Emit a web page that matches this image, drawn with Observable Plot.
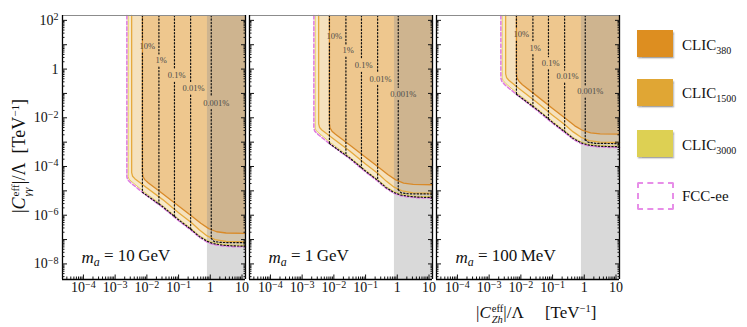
<!DOCTYPE html>
<html>
<head>
<meta charset="utf-8">
<script src="https://cdn.jsdelivr.net/npm/d3@7"></script>
<script src="https://cdn.jsdelivr.net/npm/@observablehq/plot@0.6"></script>
<style>
  html, body { margin: 0; padding: 0; background: #fff; }
  #wrap { position: relative; width: 747px; height: 327px; overflow: hidden; font-family: "Liberation Serif", "DejaVu Serif", serif; color: #111; }
  #wrap svg { position: absolute; left: 0; top: 0; }
  #wrap svg text { font-family: "Liberation Serif", "DejaVu Serif", serif; }
  .lg-box { position: absolute; left: 637px; width: 36px; height: 27px; box-shadow: 1px 1.5px 1.5px rgba(0,0,0,0.35); }
  .lg-dash { position: absolute; left: 637px; width: 33px; height: 24px; border: 2px dashed #e78ee8; border-radius: 2px; }
  .lg-text { position: absolute; left: 682px; font-size: 15px; line-height: 15px; white-space: nowrap; }
  .lg-text sub { font-size: 10px; vertical-align: -4px; line-height: 0; }
  .ax { position: absolute; white-space: nowrap; font-size: 17px; line-height: 17px; }
  .ss { display: inline-block; vertical-align: -0.5em; font-size: 0.62em; line-height: 1.05em; margin-left: 1px; }
  .ss span { display: block; }
  .ax sup { font-size: 0.62em; vertical-align: 0.55em; line-height: 0; }
</style>
</head>
<body>
<div id="wrap"></div>
<script>
// ---------------- data (log10 values) ----------------
const panels = ["10 GeV", "1 GeV", "100 MeV"];
const panelMassText = ["10\u2009GeV", "1\u2009GeV", "100\u2009MeV"];
const panelTextPosLog = [-4.06, -7.73];

const xDomainLog = [-4.66, 1.11];
const yDomainLog = [-8.64, 2.2];

const xTickValuesLog = [-4, -3, -2, -1, 0, 1];
const xTickLabels = ["10^-4", "10^-3", "10^-2", "10^-1", "1", "10"];
const yTickValuesLog = [2, 0, -2, -4, -6, -8];
const yTickLabels = ["10^2", "1", "10^-2", "10^-4", "10^-6", "10^-8"];

const grayBandLog = [-0.09, 1.11];

const contourXLog = [-2.14, -1.62, -1.13, -0.62, 0.03];
const contourLabelXLog = [-1.99, -1.55, -1.06, -0.53, 0.19];
const contourLabels = ["10%", "1%", "0.1%", "0.01%", "0.001%"];

// m_a = 10 GeV
const fcc_10GeV = [[-2.63,2.2],[-2.63,-4.43],[-2.6,-4.55],[-2.5,-4.68],[-2.1,-5.1],[-1.5,-5.68],[-1.0,-6.22],[-0.6,-6.62],[-0.35,-6.9],[-0.1,-7.1],[0.1,-7.2],[0.4,-7.26],[0.7,-7.29],[1.11,-7.3]];
const clic3000_10GeV = [[-2.59,2.2],[-2.59,-4.42],[-2.56,-4.52],[-2.47,-4.63],[-2.1,-5.03],[-1.5,-5.61],[-1.0,-6.15],[-0.6,-6.55],[-0.35,-6.83],[-0.1,-7.03],[0.1,-7.13],[0.4,-7.2],[0.7,-7.23],[1.11,-7.24]];
const clic1500_10GeV = [[-2.48,2.2],[-2.48,-4.25],[-2.45,-4.4],[-2.38,-4.5],[-2.1,-4.78],[-1.5,-5.36],[-1.0,-5.9],[-0.6,-6.3],[-0.35,-6.6],[-0.1,-6.85],[0.15,-7.0],[0.5,-7.08],[1.11,-7.1]];
const clic380_10GeV = [[-2.14,2.2],[-2.14,-4.25],[-2.12,-4.42],[-2.06,-4.55],[-1.95,-4.68],[-1.5,-5.12],[-1.0,-5.62],[-0.6,-6.02],[-0.3,-6.33],[-0.05,-6.55],[0.2,-6.68],[0.5,-6.73],[1.11,-6.75]];
const edge_10GeV = [[-2.14,-5.06],[-1.5,-5.65],[-1.0,-6.19],[-0.6,-6.59],[-0.35,-6.87],[-0.1,-7.07],[0.1,-7.17],[0.4,-7.23],[0.7,-7.26],[1.11,-7.27]];
const tail_10GeV = [[0.03,-6.95],[0.12,-7.08],[0.35,-7.12],[1.11,-7.13]];
const contourBottom_10GeV = [-5.06, -5.54, -6.05, -6.57, -6.95];
const contourLabelY_10GeV = [0.93, 0.35, -0.27, -0.8, -1.39];

// m_a = 1 GeV
const fcc_1GeV = [[-2.63,2.2],[-2.63,-2.43],[-2.6,-2.55],[-2.5,-2.68],[-2.1,-3.1],[-1.5,-3.68],[-1.0,-4.22],[-0.6,-4.62],[-0.35,-4.9],[-0.1,-5.1],[0.1,-5.2],[0.4,-5.26],[0.7,-5.29],[1.11,-5.3]];
const clic3000_1GeV = [[-2.59,2.2],[-2.59,-2.42],[-2.56,-2.52],[-2.47,-2.63],[-2.1,-3.03],[-1.5,-3.61],[-1.0,-4.15],[-0.6,-4.55],[-0.35,-4.83],[-0.1,-5.03],[0.1,-5.13],[0.4,-5.2],[0.7,-5.23],[1.11,-5.24]];
const clic1500_1GeV = [[-2.48,2.2],[-2.48,-2.25],[-2.45,-2.4],[-2.38,-2.5],[-2.1,-2.78],[-1.5,-3.36],[-1.0,-3.9],[-0.6,-4.3],[-0.35,-4.6],[-0.1,-4.85],[0.15,-5.0],[0.5,-5.08],[1.11,-5.1]];
const clic380_1GeV = [[-2.14,2.2],[-2.14,-2.25],[-2.12,-2.42],[-2.06,-2.55],[-1.95,-2.68],[-1.5,-3.12],[-1.0,-3.62],[-0.6,-4.02],[-0.3,-4.33],[-0.05,-4.55],[0.2,-4.68],[0.5,-4.73],[1.11,-4.75]];
const edge_1GeV = [[-2.14,-3.06],[-1.5,-3.65],[-1.0,-4.19],[-0.6,-4.59],[-0.35,-4.87],[-0.1,-5.07],[0.1,-5.17],[0.4,-5.23],[0.7,-5.26],[1.11,-5.27]];
const tail_1GeV = [[0.03,-4.95],[0.12,-5.08],[0.35,-5.12],[1.11,-5.13]];
const contourBottom_1GeV = [-3.06, -3.54, -4.05, -4.57, -4.95];
const contourLabelY_1GeV = [1.34, 0.76, 0.14, -0.4, -1.02];

// m_a = 100 MeV
const fcc_100MeV = [[-2.63,2.2],[-2.63,-0.38],[-2.6,-0.5],[-2.5,-0.65],[-2.1,-1.08],[-1.5,-1.68],[-1.0,-2.22],[-0.6,-2.62],[-0.35,-2.88],[-0.1,-3.06],[0.1,-3.14],[0.4,-3.19],[0.7,-3.21],[1.11,-3.22]];
const clic3000_100MeV = [[-2.59,2.2],[-2.59,-0.37],[-2.56,-0.47],[-2.47,-0.6],[-2.1,-1.01],[-1.5,-1.61],[-1.0,-2.15],[-0.6,-2.55],[-0.35,-2.81],[-0.1,-2.99],[0.1,-3.07],[0.4,-3.13],[0.7,-3.15],[1.11,-3.16]];
const clic1500_100MeV = [[-2.48,2.2],[-2.48,-0.2],[-2.45,-0.35],[-2.38,-0.46],[-2.1,-0.76],[-1.5,-1.36],[-1.0,-1.9],[-0.6,-2.3],[-0.35,-2.58],[-0.1,-2.8],[0.15,-2.94],[0.5,-3.0],[1.11,-3.02]];
const clic380_100MeV = [[-2.14,2.2],[-2.14,-0.2],[-2.12,-0.37],[-2.06,-0.5],[-1.95,-0.64],[-1.5,-1.1],[-1.0,-1.62],[-0.6,-2.02],[-0.3,-2.33],[-0.05,-2.52],[0.2,-2.62],[0.5,-2.66],[1.11,-2.67]];
const edge_100MeV = [[-2.14,-1.03],[-1.5,-1.65],[-1.0,-2.19],[-0.6,-2.59],[-0.35,-2.85],[-0.1,-3.03],[0.1,-3.11],[0.4,-3.16],[0.7,-3.18],[1.11,-3.19]];
const tail_100MeV = [[0.03,-2.9],[0.12,-3.0],[0.35,-3.05],[1.11,-3.06]];
const contourBottom_100MeV = [-1.03, -1.55, -2.04, -2.55, -2.92];
const contourLabelY_100MeV = [1.41, 0.86, 0.24, -0.31, -0.92];

const fccSets = [fcc_10GeV, fcc_1GeV, fcc_100MeV];
const clic3000Sets = [clic3000_10GeV, clic3000_1GeV, clic3000_100MeV];
const clic1500Sets = [clic1500_10GeV, clic1500_1GeV, clic1500_100MeV];
const clic380Sets = [clic380_10GeV, clic380_1GeV, clic380_100MeV];
const edgeSets = [edge_10GeV, edge_1GeV, edge_100MeV];
const tailSets = [tail_10GeV, tail_1GeV, tail_100MeV];
const bottomSets = [contourBottom_10GeV, contourBottom_1GeV, contourBottom_100MeV];
const labelYSets = [contourLabelY_10GeV, contourLabelY_1GeV, contourLabelY_100MeV];

// ---------------- tables ----------------
const L = v => Math.pow(10, v);
const xMin = L(xDomainLog[0]), xMax = L(xDomainLog[1]);
const yMin = L(yDomainLog[0]), yMax = L(yDomainLog[1]);
const labelGap = 0.27;
const SERIF = '"Liberation Serif", "DejaVu Serif", serif';

function curveRows(sets, closed) {
  const rows = [];
  sets.forEach((pts, pi) => {
    pts.forEach(([x, y]) => rows.push({panel: panels[pi], x: L(x), y: L(y)}));
    if (closed) rows.push({panel: panels[pi], x: xMax, y: yMax});
  });
  return rows;
}
const fill3000 = curveRows(clic3000Sets, true);
const fill1500 = curveRows(clic1500Sets, true);
const fill380 = curveRows(clic380Sets, true);
const line3000 = curveRows(clic3000Sets, false);
const line1500 = curveRows(clic1500Sets, false);
const line380 = curveRows(clic380Sets, false);
const lineFcc = curveRows(fccSets, false);

const dotted = [];
const contourText = [];
panels.forEach((panel, pi) => {
  contourXLog.forEach((xl, i) => {
    const ly = labelYSets[pi][i];
    dotted.push({panel, key: "t" + i, x: L(xl), y: yMax}, {panel, key: "t" + i, x: L(xl), y: L(ly + labelGap)});
    dotted.push({panel, key: "b" + i, x: L(xl), y: L(ly - labelGap)}, {panel, key: "b" + i, x: L(xl), y: L(bottomSets[pi][i])});
    contourText.push({panel, x: L(contourLabelXLog[i]), y: L(ly), text: contourLabels[i]});
  });
  edgeSets[pi].forEach(([x, y]) => dotted.push({panel, key: "edge", x: L(x), y: L(y)}));
  tailSets[pi].forEach(([x, y]) => dotted.push({panel, key: "tail", x: L(x), y: L(y)}));
});
const panelText = panels.map((panel, i) => ({panel, x: L(panelTextPosLog[0]), y: L(panelTextPosLog[1]), text: "m_a = " + panelMassText[i]}));

// tick positions
const xMajor = [], xMinor = [], yMajor = [], yMinor = [];
for (let k = -5; k <= 1; k++) {
  if (k >= xDomainLog[0] && k <= xDomainLog[1]) xMajor.push(L(k));
  for (let m = 2; m <= 9; m++) { const v = m * L(k); if (v > xMin && v < xMax) xMinor.push(v); }
}
for (let k = -9; k <= 2; k++) {
  if (k >= yDomainLog[0] && k <= yDomainLog[1]) yMajor.push(L(k));
  for (let m = 2; m <= 9; m++) { const v = m * L(k); if (v > yMin && v < yMax) yMinor.push(v); }
}
const fmtX = d => { const i = xTickValuesLog.indexOf(Math.round(Math.log10(d))); return i < 0 ? "" : xTickLabels[i]; };
const fmtY = d => { const i = yTickValuesLog.indexOf(Math.round(Math.log10(d))); return i < 0 ? "" : yTickLabels[i]; };
const blank = () => "";

const xy = {x: "x", y: "y", fx: "panel"};
const plot = Plot.plot({
  width: 625, height: 327,
  marginLeft: 61, marginRight: 5, marginTop: 15, marginBottom: 48,
  style: {fontFamily: SERIF, fontSize: "13px", background: "transparent", overflow: "visible"},
  fx: {domain: panels, paddingInner: 0.019, paddingOuter: 0, axis: null, label: null},
  x: {type: "log", domain: [xMin, xMax], axis: null},
  y: {type: "log", domain: [yMin, yMax], axis: null},
  marks: [
    Plot.line(fill3000, {...xy, fill: "#f7e9cb", stroke: "none"}),
    Plot.line(fill1500, {...xy, fill: "#f5e1bd", stroke: "none"}),
    Plot.line(fill380, {...xy, fill: "#eec78e", stroke: "none"}),
    Plot.rect([grayBandLog], {x1: d => L(d[0]), x2: d => L(d[1]), y1: () => yMin, y2: () => yMax, fill: "#929292", fillOpacity: 0.35}),
    Plot.line(line3000, {...xy, stroke: "#e3cf57", strokeWidth: 1}),
    Plot.line(line1500, {...xy, stroke: "#e6aa3d", strokeWidth: 1.3}),
    Plot.line(line380, {...xy, stroke: "#d98a28", strokeWidth: 1.3}),
    Plot.line(lineFcc, {...xy, stroke: "#df80e0", strokeWidth: 1.6, strokeDasharray: "3.5,2.2"}),
    Plot.line(dotted, {...xy, z: "key", stroke: "#111", strokeWidth: 1.2, strokeDasharray: "1.3,2.1"}),
    Plot.text(contourText, {...xy, text: "text", fontSize: 8.5, fontFamily: SERIF, fill: "#4a4a4a"}),
    Plot.text(panelText, {...xy, text: "text", textAnchor: "start", fontSize: 17, fontFamily: SERIF, fill: "#111"}),
    Plot.ruleY([yMax], {stroke: "#8c8c8c", strokeWidth: 1}),
    Plot.ruleY([yMin], {stroke: "#000", strokeWidth: 1.3}),
    Plot.ruleX([xMin], {stroke: "#000", strokeWidth: 1.3}),
    Plot.ruleX([xMax], {stroke: "#000", strokeWidth: 1.3}),
    Plot.axisX({ticks: xMajor, tickSize: 0, tickPadding: 3, tickFormat: fmtX, fontSize: 14, fontFamily: SERIF, label: null}),
    Plot.axisY({ticks: yTickValuesLog.map(L), tickSize: 0, tickPadding: 4, tickFormat: fmtY, fontSize: 14, fontFamily: SERIF, label: null}),
    Plot.axisX({ticks: xMajor, tickSize: 4.5, insetBottom: 4.5, tickFormat: blank, label: null}),
    Plot.axisX({ticks: xMinor, tickSize: 2.5, insetBottom: 2.5, tickFormat: blank, label: null}),
    Plot.axisY({ticks: yMajor, tickSize: 5, insetLeft: 5, facetAnchor: null, tickFormat: blank, label: null}),
    Plot.axisY({ticks: yMinor, tickSize: 2.5, insetLeft: 2.5, facetAnchor: null, tickFormat: blank, label: null}),
    Plot.axisY({anchor: "right", ticks: yMajor, tickSize: 5, insetRight: 5, facetAnchor: null, tickFormat: blank, label: null}),
    Plot.axisY({anchor: "right", ticks: yMinor, tickSize: 2.5, insetRight: 2.5, facetAnchor: null, tickFormat: blank, label: null})
  ]
});

// typeset superscripts / subscripts in the SVG texts
d3.select(plot).selectAll("text").each(function() {
  const s = this.textContent;
  let m = s.match(/^10\^(-?\d+)$/);
  if (m) {
    this.textContent = "10";
    d3.select(this).append("tspan").attr("dy", "-0.45em").attr("font-size", "0.72em").text(m[1].replace("-", "\u2212"));
    return;
  }
  m = s.match(/^m_a = (.*)$/);
  if (m) {
    this.textContent = "";
    const t = d3.select(this);
    t.append("tspan").attr("font-style", "italic").text("m");
    t.append("tspan").attr("dy", "0.3em").attr("font-size", "0.7em").attr("font-style", "italic").text("a");
    t.append("tspan").attr("dy", "-0.3em").text(" = " + m[1]);
  }
});

const wrap = document.getElementById("wrap");
wrap.appendChild(plot);

// legend + axis titles (HTML text)
const legendNames = ["380", "1500", "3000"];
const legendColors = ["#dd8e20", "#e0a634", "#ddd053"];
const legendBoxTop = [30, 78.5, 130];
const legendTextTop = [37.5, 85.8, 137.5];
legendNames.forEach((n, i) => {
  const b = document.createElement("div");
  b.className = "lg-box"; b.style.top = legendBoxTop[i] + "px"; b.style.background = legendColors[i];
  wrap.appendChild(b);
  const t = document.createElement("div");
  t.className = "lg-text"; t.style.top = legendTextTop[i] + "px";
  t.innerHTML = "CLIC<sub>" + n + "</sub>";
  wrap.appendChild(t);
});
const fb = document.createElement("div");
fb.className = "lg-dash"; fb.style.top = "182px"; wrap.appendChild(fb);
const ft = document.createElement("div");
ft.className = "lg-text"; ft.style.top = "189px"; ft.textContent = "FCC-ee"; wrap.appendChild(ft);

const yl = document.createElement("div");
yl.className = "ax";
yl.style.left = "22px"; yl.style.top = "156px"; yl.style.fontSize = "18px";
yl.style.transform = "translate(-50%,-50%) rotate(-90deg)";
yl.innerHTML = '|<i>C</i><span class="ss"><span>eff</span><span><i>γγ</i></span></span>|/Λ&nbsp;&nbsp;[TeV<sup>−1</sup>]';
wrap.appendChild(yl);

const xl = document.createElement("div");
xl.className = "ax";
xl.style.left = "476px"; xl.style.top = "303px";
xl.innerHTML = '|<i>C</i><span class="ss"><span>eff</span><span><i>Zh</i></span></span>|/Λ&nbsp;&nbsp;&nbsp;&nbsp;&nbsp;[TeV<sup>−1</sup>]';
wrap.appendChild(xl);
</script>
</body>
</html>
